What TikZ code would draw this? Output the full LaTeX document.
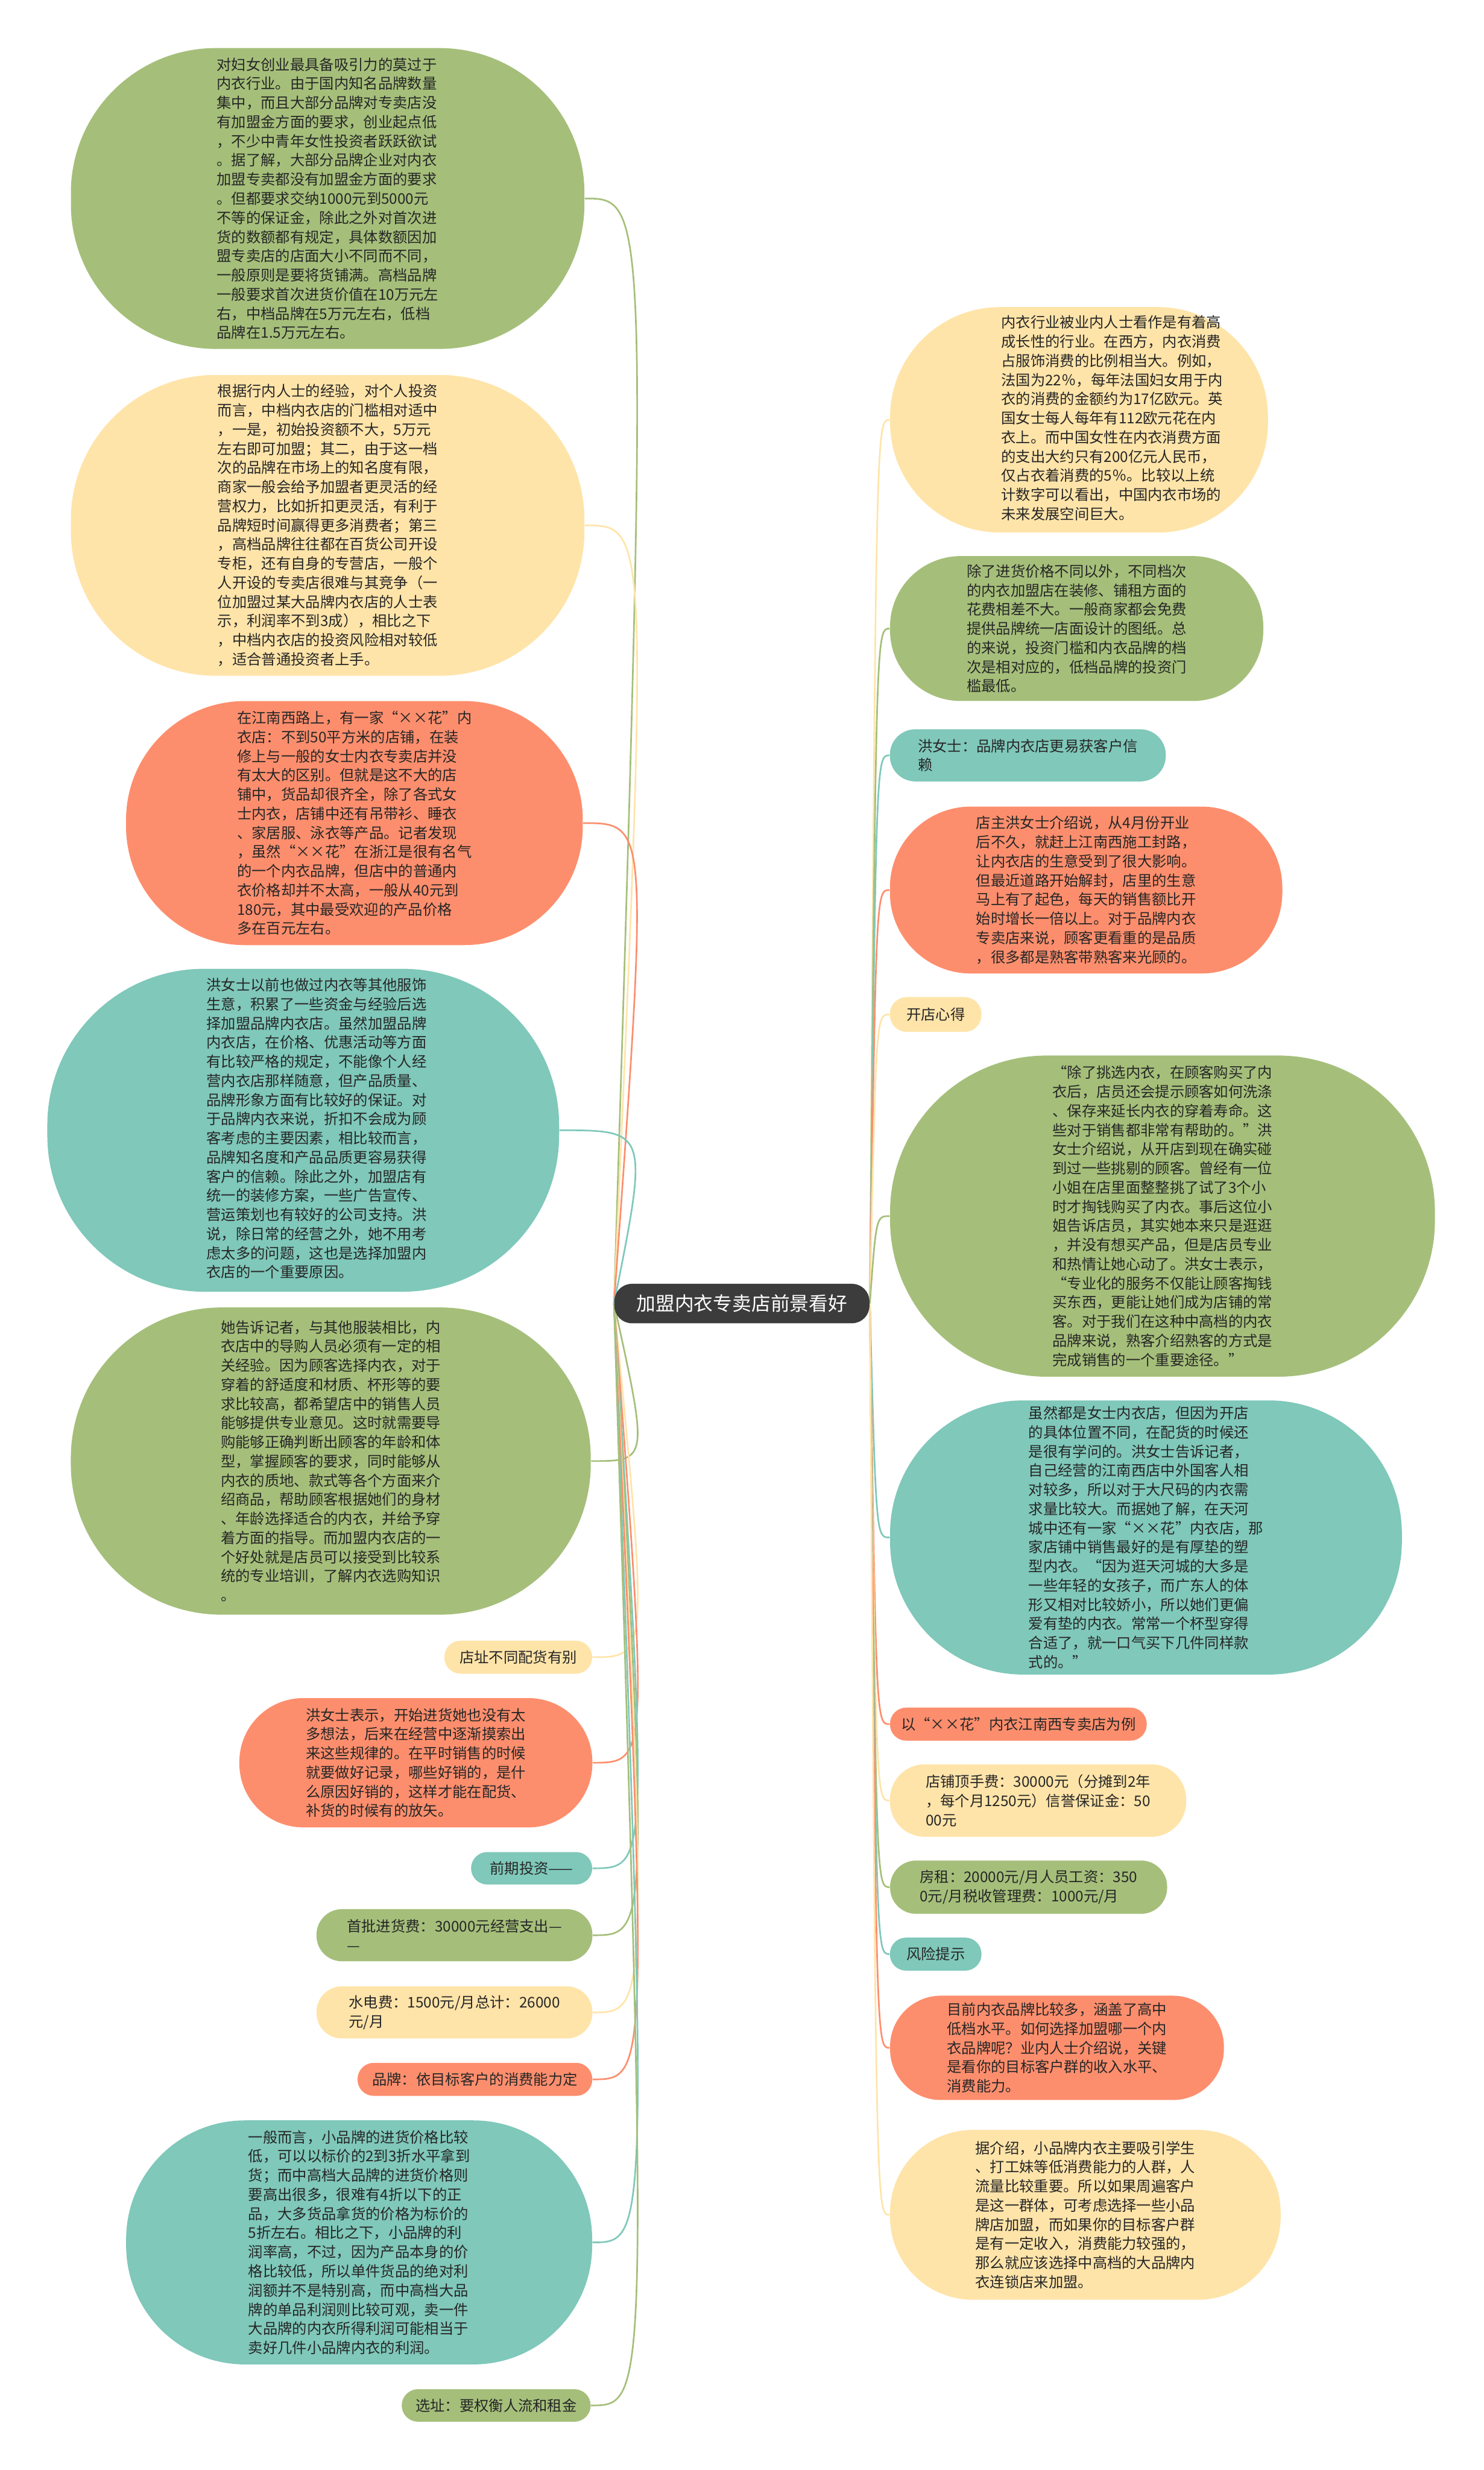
\documentclass[tikz,border=0pt]{standalone}
\usepackage{fontspec}
\setmainfont{Noto Sans CJK SC}
\usetikzlibrary{calc}
\pgfdeclarelayer{background}
\pgfsetlayers{background,main}
\definecolor{leaf}{HTML}{A5BF7A}
\definecolor{sand}{HTML}{FFE4A9}
\definecolor{coral}{HTML}{FD8E6D}
\definecolor{mint}{HTML}{7FC8BA}
\definecolor{ink}{HTML}{3C3C3C}
\begin{document}
\begin{tikzpicture}[x=0.027176cm,y=-0.027176cm,
  bub/.style n args={3}{rounded corners=#3,minimum width=#1,minimum height=#2,inner sep=0pt,align=left,text=black!85,font=\fontsize{7.2pt}{9.4pt}\selectfont},
  wire/.style={line width=0.8pt}]
\useasboundingbox (0,0) rectangle (942,1568);

% center
\node[fill=ink,text=white,rounded corners=0.3cm,minimum width=4.4cm,minimum height=0.68cm,font=\fontsize{9.4pt}{11pt}\selectfont] (ctr) at (471,827.5) {加盟内衣专卖店前景看好};

% left side
\node[bub={8.86cm}{5.19cm}{2.5cm},fill=leaf] (L1) at (208,126) {对妇女创业最具备吸引力的莫过于\\内衣行业。由于国内知名品牌数量\\集中，而且大部分品牌对专卖店没\\有加盟金方面的要求，创业起点低\\，不少中青年女性投资者跃跃欲试\\。据了解，大部分品牌企业对内衣\\加盟专卖都没有加盟金方面的要求\\。但都要求交纳1000元到5000元\\不等的保证金，除此之外对首次进\\货的数额都有规定，具体数额因加\\盟专卖店的店面大小不同而不同，\\一般原则是要将货铺满。高档品牌\\一般要求首次进货价值在10万元左\\右，中档品牌在5万元左右，低档\\品牌在1.5万元左右。};
\node[bub={8.86cm}{5.19cm}{2.5cm},fill=sand] (L2) at (208,333.5) {根据行内人士的经验，对个人投资\\而言，中档内衣店的门槛相对适中\\，一是，初始投资额不大，5万元\\左右即可加盟；其二，由于这一档\\次的品牌在市场上的知名度有限，\\商家一般会给予加盟者更灵活的经\\营权力，比如折扣更灵活，有利于\\品牌短时间赢得更多消费者；第三\\，高档品牌往往都在百货公司开设\\专柜，还有自身的专营店，一般个\\人开设的专卖店很难与其竞争（一\\位加盟过某大品牌内衣店的人士表\\示，利润率不到3成），相比之下\\，中档内衣店的投资风险相对较低\\，适合普通投资者上手。};
\node[bub={7.88cm}{4.21cm}{2.05cm},fill=coral] (L3) at (225,522.5) {在江南西路上，有一家“××花”内\\衣店：不到50平方米的店铺，在装\\修上与一般的女士内衣专卖店并没\\有太大的区别。但就是这不大的店\\铺中，货品却很齐全，除了各式女\\士内衣，店铺中还有吊带衫、睡衣\\、家居服、泳衣等产品。记者发现\\，虽然“××花”在浙江是很有名气\\的一个内衣品牌，但店中的普通内\\衣价格却并不太高，一般从40元到\\180元，其中最受欢迎的产品价格\\多在百元左右。};
\node[bub={8.83cm}{5.57cm}{2.7cm},fill=mint] (L4) at (192.5,717.5) {\hspace*{0.46cm}\begin{tabular}{@{}l@{}}洪女士以前也做过内衣等其他服饰\\生意，积累了一些资金与经验后选\\择加盟品牌内衣店。虽然加盟品牌\\内衣店，在价格、优惠活动等方面\\有比较严格的规定，不能像个人经\\营内衣店那样随意，但产品质量、\\品牌形象方面有比较好的保证。对\\于品牌内衣来说，折扣不会成为顾\\客考虑的主要因素，相比较而言，\\品牌知名度和产品品质更容易获得\\客户的信赖。除此之外，加盟店有\\统一的装修方案，一些广告宣传、\\营运策划也有较好的公司支持。洪\\说，除日常的经营之外，她不用考\\虑太多的问题，这也是选择加盟内\\衣店的一个重要原因。\end{tabular}};
\node[bub={8.97cm}{5.3cm}{2.6cm},fill=leaf] (L5) at (210,927.5) {她告诉记者，与其他服装相比，内\\衣店中的导购人员必须有一定的相\\关经验。因为顾客选择内衣，对于\\穿着的舒适度和材质、杯形等的要\\求比较高，都希望店中的销售人员\\能够提供专业意见。这时就需要导\\购能够正确判断出顾客的年龄和体\\型，掌握顾客的要求，同时能够从\\内衣的质地、款式等各个方面来介\\绍商品，帮助顾客根据她们的身材\\、年龄选择适合的内衣，并给予穿\\着方面的指导。而加盟内衣店的一\\个好处就是店员可以接受到比较系\\统的专业培训，了解内衣选购知识\\。};
\node[bub={2.55cm}{0.57cm}{0.28cm},fill=sand] (L6) at (329,1052) {店址不同配货有别};
\node[bub={6.09cm}{2.23cm}{1.1cm},fill=coral] (L7) at (264,1119) {洪女士表示，开始进货她也没有太\\多想法，后来在经营中逐渐摸索出\\来这些规律的。在平时销售的时候\\就要做好记录，哪些好销的，是什\\么原因好销的，这样才能在配货、\\补货的时候有的放矢。};
\node[bub={2.09cm}{0.56cm}{0.28cm},fill=mint] (L8) at (337.5,1186) {前期投资——};
\node[bub={4.76cm}{0.9cm}{0.44cm},fill=leaf] (L9) at (288.5,1228.5) {首批进货费：30000元经营支出—\\—};
\node[bub={4.76cm}{0.9cm}{0.44cm},fill=sand] (L10) at (288.5,1277.5) {水电费：1500元/月总计：26000\\元/月};
\node[bub={4.05cm}{0.57cm}{0.28cm},fill=coral] (L11) at (301.5,1320) {品牌：依目标客户的消费能力定};
\node[bub={8.04cm}{4.21cm}{2.05cm},fill=mint] (L12) at (228,1423.5) {一般而言，小品牌的进货价格比较\\低，可以以标价的2到3折水平拿到\\货；而中高档大品牌的进货价格则\\要高出很多，很难有4折以下的正\\品，大多货品拿货的价格为标价的\\5折左右。相比之下，小品牌的利\\润率高，不过，因为产品本身的价\\格比较低，所以单件货品的绝对利\\润额并不是特别高，而中高档大品\\牌的单品利润则比较可观，卖一件\\大品牌的内衣所得利润可能相当于\\卖好几件小品牌内衣的利润。};
\node[bub={3.26cm}{0.56cm}{0.28cm},fill=leaf] (L13) at (315,1527) {选址：要权衡人流和租金};

% right side
\node[bub={6.52cm}{3.89cm}{1.9cm},fill=sand] (R1) at (685,266.5) {\hspace*{1.14cm}\begin{tabular}{@{}l@{}}内衣行业被业内人士看作是有着高\\成长性的行业。在西方，内衣消费\\占服饰消费的比例相当大。例如，\\法国为22％，每年法国妇女用于内\\衣的消费的金额约为17亿欧元。英\\国女士每人每年有112欧元花在内\\衣上。而中国女性在内衣消费方面\\的支出大约只有200亿元人民币，\\仅占衣着消费的5％。比较以上统\\计数字可以看出，中国内衣市场的\\未来发展空间巨大。\end{tabular}};
\node[bub={6.44cm}{2.5cm}{1.22cm},fill=leaf] (R2) at (683.5,399) {除了进货价格不同以外，不同档次\\的内衣加盟店在装修、铺租方面的\\花费相差不大。一般商家都会免费\\提供品牌统一店面设计的图纸。总\\的来说，投资门槛和内衣品牌的档\\次是相对应的，低档品牌的投资门\\槛最低。};
\node[bub={4.76cm}{0.9cm}{0.44cm},fill=mint] (R3) at (652.5,479.5) {洪女士：品牌内衣店更易获客户信\\赖};
\node[bub={6.77cm}{2.88cm}{1.4cm},fill=coral] (R4) at (689.5,565) {店主洪女士介绍说，从4月份开业\\后不久，就赶上江南西施工封路，\\让内衣店的生意受到了很大影响。\\但最近道路开始解封，店里的生意\\马上有了起色，每天的销售额比开\\始时增长一倍以上。对于品牌内衣\\专卖店来说，顾客更看重的是品质\\，很多都是熟客带熟客来光顾的。};
\node[bub={1.58cm}{0.6cm}{0.29cm},fill=sand] (R5) at (594,644) {开店心得};
\node[bub={9.4cm}{5.54cm}{2.7cm},fill=leaf] (R6) at (738,772) {“除了挑选内衣，在顾客购买了内\\衣后，店员还会提示顾客如何洗涤\\、保存来延长内衣的穿着寿命。这\\些对于销售都非常有帮助的。”洪\\女士介绍说，从开店到现在确实碰\\到过一些挑剔的顾客。曾经有一位\\小姐在店里面整整挑了试了3个小\\时才掏钱购买了内衣。事后这位小\\姐告诉店员，其实她本来只是逛逛\\，并没有想买产品，但是店员专业\\和热情让她心动了。洪女士表示，\\“专业化的服务不仅能让顾客掏钱\\买东西，更能让她们成为店铺的常\\客。对于我们在这种中高档的内衣\\品牌来说，熟客介绍熟客的方式是\\完成销售的一个重要途径。”};
\node[bub={8.83cm}{4.73cm}{2.3cm},fill=mint] (R7) at (727.5,976) {虽然都是女士内衣店，但因为开店\\的具体位置不同，在配货的时候还\\是很有学问的。洪女士告诉记者，\\自己经营的江南西店中外国客人相\\对较多，所以对于大尺码的内衣需\\求量比较大。而据她了解，在天河\\城中还有一家“××花”内衣店，那\\家店铺中销售最好的是有厚垫的塑\\型内衣。“因为逛天河城的大多是\\一些年轻的女孩子，而广东人的体\\形又相对比较娇小，所以她们更偏\\爱有垫的内衣。常常一个杯型穿得\\合适了，就一口气买下几件同样款\\式的。”};
\node[bub={4.43cm}{0.57cm}{0.28cm},fill=coral] (R8) at (646.5,1094.5) {以“××花”内衣江南西专卖店为例};
\node[bub={5.11cm}{1.25cm}{0.6cm},fill=sand] (R9) at (659,1143) {店铺顶手费：30000元（分摊到2年\\，每个月1250元）信誉保证金：50\\00元};
\node[bub={4.78cm}{0.92cm}{0.45cm},fill=leaf] (R10) at (653,1198) {房租：20000元/月人员工资：350\\0元/月税收管理费：1000元/月};
\node[bub={1.58cm}{0.57cm}{0.28cm},fill=mint] (R11) at (594,1240.5) {风险提示};
\node[bub={5.76cm}{1.8cm}{0.88cm},fill=coral] (R12) at (671,1300) {目前内衣品牌比较多，涵盖了高中\\低档水平。如何选择加盟哪一个内\\衣品牌呢？业内人士介绍说，关键\\是看你的目标客户群的收入水平、\\消费能力。};
\node[bub={6.74cm}{2.93cm}{1.43cm},fill=sand] (R13) at (689,1406) {据介绍，小品牌内衣主要吸引学生\\、打工妹等低消费能力的人群，人\\流量比较重要。所以如果周遍客户\\是这一群体，可考虑选择一些小品\\牌店加盟，而如果你的目标客户群\\是有一定收入，消费能力较强的，\\那么就应该选择中高档的大品牌内\\衣连锁店来加盟。};

% connectors
\coordinate (lj) at ($(ctr.west)+(22,0)$);
\coordinate (rj) at ($(ctr.east)+(4,0)$);
\begin{pgfonlayer}{background}
\foreach \n/\c in {L1/leaf,L2/sand,L3/coral,L4/mint,L5/leaf,L6/sand,L7/coral,L8/mint,L9/leaf,L10/sand,L11/coral,L12/mint,L13/leaf}
  \draw[\c,wire] (ctr.west) .. controls (lj |- \n.east) .. (\n.east);
\foreach \n/\c in {R1/sand,R2/leaf,R3/mint,R4/coral,R5/sand,R6/leaf,R7/mint,R8/coral,R9/sand,R10/leaf,R11/mint,R12/coral,R13/sand}
  \draw[\c,wire] (ctr.east) .. controls (rj |- \n.west) .. (\n.west);
\end{pgfonlayer}
\end{tikzpicture}
\end{document}
